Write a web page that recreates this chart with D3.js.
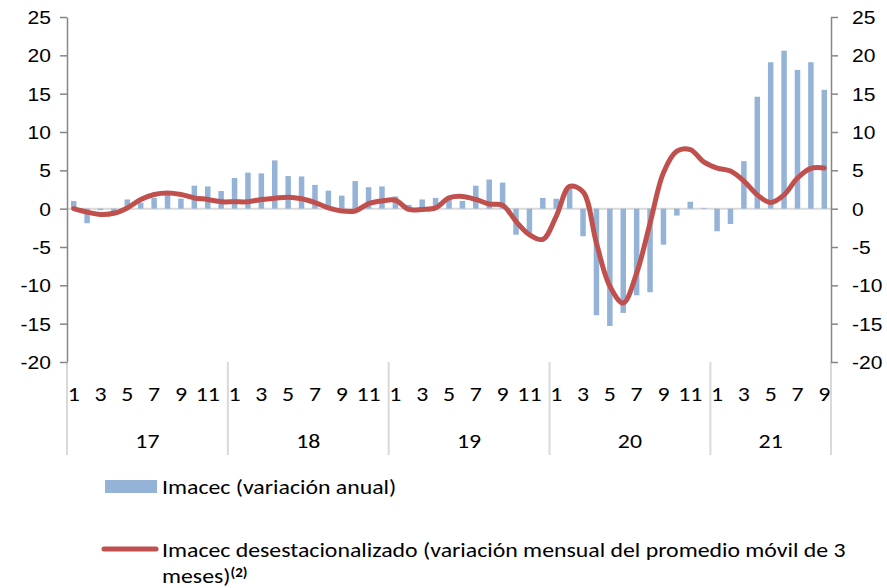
<!DOCTYPE html>
<html>
<head>
<meta charset="utf-8">
<script src="https://cdn.jsdelivr.net/npm/d3@7"></script>
<style>
    body { margin: 0; background: #fff; }
    svg { font-family: Carlito, Calibri, "Open Sans", sans-serif; }
    .axis path, .axis line { stroke: #868686; stroke-width: 1.5; }
    .axis text { fill: #000; font-size: 18.3px; }
    .cat text { font-size: 20.7px; fill: #000; }
    .legend text { font-size: 20.7px; fill: #000; }
</style>
</head>
<body>
<div id="chart-area"></div>
<script>
// years and months (Jan 2017 - Sep 2021)
var years = ["17", "18", "19", "20", "21"];
var monthsPerYear = [12, 12, 12, 12, 9];

// Imacec (variacion anual), %
var imacec = [
    1.0, -1.9, -0.2, -0.3, 1.2, 0.8, 1.4, 1.9, 1.3, 3.0, 2.9, 2.3,
    4.0, 4.7, 4.6, 6.3, 4.25, 4.2, 3.1, 2.35, 1.7, 3.6, 2.8, 2.9,
    1.6, 0.5, 1.2, 1.4, 1.6, 1.0, 3.0, 3.8, 3.4, -3.4, -3.4, 1.4,
    1.3, 3.0, -3.6, -13.9, -15.3, -13.6, -11.3, -10.9, -4.7, -0.9, 0.9, 0.1,
    -2.95, -2.0, 6.2, 14.6, 19.1, 20.6, 18.1, 19.1, 15.5
];

// Imacec desestacionalizado (var. mensual prom. movil 3 meses), %
var desest = [
    0.0, -0.45, -0.75, -0.6, 0.1, 1.2, 1.85, 2.05, 1.85, 1.4, 1.2, 0.9,
    0.9, 0.9, 1.2, 1.35, 1.5, 1.3, 0.8, 0.1, -0.3, -0.3, 0.65, 1.0,
    1.1, -0.1, -0.1, 0.1, 1.4, 1.6, 1.2, 0.6, 0.45, -1.65, -3.4, -4.0,
    -1.0, 2.9, 2.2, -4.5, -10.1, -12.3, -8.4, -1.9, 4.7, 7.5, 7.7, 6.1,
    5.3, 4.9, 3.6, 1.8, 0.8, 1.8, 4.0, 5.25, 5.3
];

var yTicks = [-20, -15, -10, -5, 0, 5, 10, 15, 20, 25];

// the original text is a little wider than the font draws it
var STRETCH = 1.15;

function stretchText(sel) {
    sel.each(function() {
        var w = this.getComputedTextLength();
        d3.select(this)
            .attr("textLength", w * STRETCH)
            .attr("lengthAdjust", "spacingAndGlyphs");
    });
}

ComboChart = function(_parentElement) {
    this.parentElement = _parentElement;
    this.initVis();
}

ComboChart.prototype.initVis = function() {
    var vis = this;

    vis.width = 887;
    vis.height = 588;
    vis.left = 67;
    vis.right = 831;
    vis.top = 17;
    vis.bottom = 362;

    vis.svg = d3.select("#" + vis.parentElement).append("svg")
        .attr("width", vis.width)
        .attr("height", vis.height);

    // month list
    vis.months = [];
    years.forEach(function(y, i) {
        for (var m = 1; m <= monthsPerYear[i]; m++) {
            vis.months.push({year: y, month: m, yearIndex: i});
        }
    });

    vis.x = d3.scaleBand()
        .domain(d3.range(vis.months.length))
        .range([vis.left, vis.right]);

    vis.y = d3.scaleLinear()
        .domain([-20, 25])
        .range([vis.bottom, vis.top]);

    // year separators in category area
    var bounds = [0];
    monthsPerYear.forEach(function(n, i) { bounds.push(bounds[i] + n); });
    var bx = function(b) { return b === vis.months.length ? vis.right : vis.x(b); };

    vis.svg.append("g").selectAll("line")
        .data(bounds)
        .enter().append("line")
        .attr("x1", bx)
        .attr("x2", bx)
        .attr("y1", vis.bottom)
        .attr("y2", 455)
        .attr("stroke", "#d9d9d9")
        .attr("stroke-width", 2);

    // zero line (category axis)
    vis.svg.append("line")
        .attr("x1", vis.left).attr("x2", vis.right)
        .attr("y1", vis.y(0)).attr("y2", vis.y(0))
        .attr("stroke", "#d9d9d9")
        .attr("stroke-width", 2);

    // bars
    var barW = 5.5;
    vis.svg.append("g").selectAll("rect")
        .data(imacec)
        .enter().append("rect")
        .attr("x", function(d, i) { return vis.x(i) + vis.x.bandwidth() / 2 - barW / 2; })
        .attr("y", function(d) { return vis.y(Math.max(0, d)); })
        .attr("width", barW)
        .attr("height", function(d) { return Math.abs(vis.y(d) - vis.y(0)); })
        .attr("fill", "#95b3d7");

    // line
    var line = d3.line()
        .x(function(d, i) { return vis.x(i) + vis.x.bandwidth() / 2; })
        .y(function(d) { return vis.y(d); })
        .curve(d3.curveCatmullRom.alpha(0.5));

    vis.svg.append("path")
        .datum(desest)
        .attr("d", line)
        .attr("fill", "none")
        .attr("stroke", "#c0504d")
        .attr("stroke-width", 5)
        .attr("stroke-linejoin", "round")
        .attr("stroke-linecap", "round");

    // y axes (hyphen as minus sign, like the original)
    var fmt = function(d) { return String(d); };

    vis.svg.append("g")
        .attr("class", "axis")
        .attr("transform", "translate(" + vis.left + ",0)")
        .call(d3.axisLeft(vis.y).tickValues(yTicks).tickFormat(fmt)
            .tickSize(7).tickSizeOuter(0).tickPadding(9));

    vis.svg.append("g")
        .attr("class", "axis")
        .attr("transform", "translate(" + vis.right + ",0)")
        .call(d3.axisRight(vis.y).tickValues(yTicks).tickFormat(fmt)
            .tickSize(7).tickSizeOuter(0).tickPadding(14));

    vis.svg.selectAll(".axis text").attr("dy", "0.36em");

    // month labels (odd months)
    var cat = vis.svg.append("g").attr("class", "cat");
    cat.selectAll("text.month")
        .data(vis.months.filter(function(d) { return d.month % 2 === 1; }))
        .enter().append("text")
        .attr("class", "month")
        .attr("x", function(d) { return vis.x(vis.months.indexOf(d)) + vis.x.bandwidth() / 2; })
        .attr("y", 401)
        .attr("text-anchor", "middle")
        .text(function(d) { return d.month; });

    // year labels
    cat.selectAll("text.year")
        .data(years)
        .enter().append("text")
        .attr("class", "year")
        .attr("x", function(d, i) { return (bx(bounds[i]) + bx(bounds[i + 1])) / 2; })
        .attr("y", 448)
        .attr("text-anchor", "middle")
        .text(function(d) { return d; });

    // legend
    var legend = vis.svg.append("g").attr("class", "legend");
    legend.append("rect")
        .attr("x", 105).attr("y", 480)
        .attr("width", 52).attr("height", 13)
        .attr("fill", "#95b3d7");
    legend.append("text")
        .attr("x", 162).attr("y", 494)
        .text("Imacec (variación anual)");

    legend.append("line")
        .attr("x1", 104).attr("x2", 156)
        .attr("y1", 549).attr("y2", 549)
        .attr("stroke", "#c0504d")
        .attr("stroke-width", 5)
        .attr("stroke-linecap", "round");
    legend.append("text")
        .attr("x", 162).attr("y", 557)
        .text("Imacec desestacionalizado (variación mensual del promedio móvil de 3");
    var t2 = legend.append("text")
        .attr("x", 162).attr("y", 583);
    t2.append("tspan").text("meses)");
    t2.append("tspan")
        .attr("dy", -6)
        .style("font-size", "13px")
        .style("font-weight", "bold")
        .text("(2)");

    stretchText(vis.svg.selectAll("text"));
}

new ComboChart("chart-area");
</script>
</body>
</html>
